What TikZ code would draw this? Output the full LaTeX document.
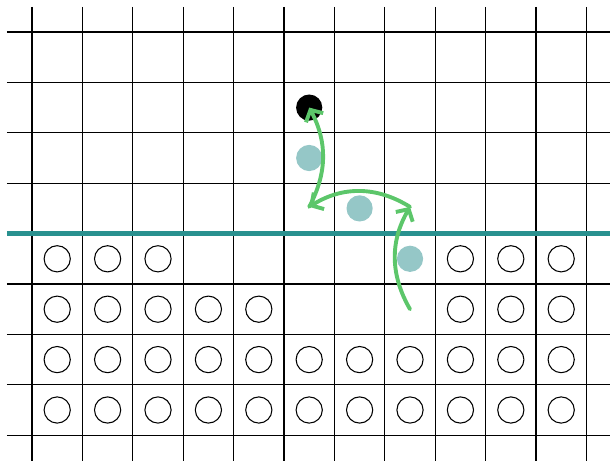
\documentclass[tikz,border=0pt]{standalone}
\usepackage{xcolor}
\usetikzlibrary{arrows.meta}
\definecolor{boundteal}{HTML}{29918F}
\definecolor{hopteal}{HTML}{95C7C7}
\definecolor{hopgreen}{HTML}{5CC66A}
\tikzset{
  gridline/.style={line width=0.6pt, draw=black},
  boundline/.style={line width=2.8pt, draw=boundteal},
  emptysite/.style={
    circle, draw=black, line width=0.6pt,
    minimum size=0.52cm, inner sep=0pt
  },
  filledsite/.style={
    circle, fill=#1, minimum size=0.52cm, inner sep=0pt
  },
  filledsite/.default=hopteal,
  hoparrow/.style={
    -{Straight Barb[length=5pt, width=11pt]}, line width=2.2pt,
    draw=hopgreen, line cap=round
  },
}

\begin{document}
\begin{tikzpicture}
\useasboundingbox (-0.635,0.635) rectangle (11.468,-8.512);
% lattice
\foreach \x in {0,...,11}
  \draw[gridline] (\x,0.5) -- (\x,-8.512);
\foreach \y in {0,...,8}
  \draw[gridline] (-0.5,-\y) -- (11.468,-\y);
\draw[boundline] (-0.5,-4) -- (11.468,-4);
% occupied sites below the boundary
\foreach \c in {0,1,2,8,9,10}
  \node[emptysite] (a\c) at (\c+0.5,-4.5) {};
\foreach \c in {0,1,2,3,4,8,9,10}
  \node[emptysite] (b\c) at (\c+0.5,-5.5) {};
\foreach \r in {6,7}
  \foreach \c in {0,...,10}
    \node[emptysite] (r\r c\c) at (\c+0.5,-\r-0.5) {};
% hopping particle
\node[filledsite] (hopA) at (7.5,-4.5) {};
\node[filledsite] (hopB) at (6.5,-3.5) {};
\node[filledsite] (hopC) at (5.5,-2.5) {};
\node[filledsite=black] (target) at (5.5,-1.5) {};
\coordinate (start) at (7.5,-5.5);
\coordinate (turnA) at (7.5,-3.47);
\coordinate (turnB) at (5.5,-3.47);
\draw[hoparrow] (start) to[bend left=30] (turnA);
\draw[hoparrow] (turnA) to[bend right=32] (turnB);
\draw[hoparrow] (turnB) to[bend right=28] (target.center);
\end{tikzpicture}
\end{document}
